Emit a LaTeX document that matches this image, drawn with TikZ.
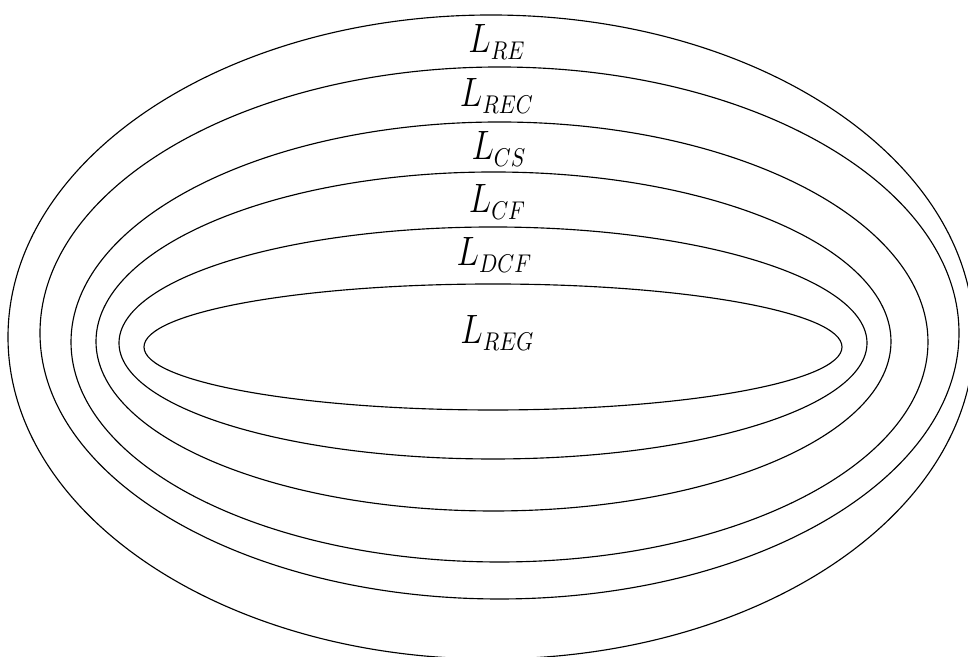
\documentclass[tikz,border=0pt]{standalone}
\usepackage{graphicx}
\DeclareMathSizes{14.4}{14.4}{9}{6}
\usetikzlibrary{shapes.geometric}
\newcommand{\rlbl}[1]{\scalebox{0.82}[1]{$#1$}}
\begin{document}
\begin{tikzpicture}[x=0.351pt,y=-0.351pt,
  ring/.style={draw=black,line width=0.4pt},
  lbl/.style={anchor=base,inner sep=0pt,font=\Large}]
\useasboundingbox (0,0) rectangle (968,657);
\clip (0,0) rectangle (968,657);
% nested regions
\draw[ring] (491,337)   ellipse [x radius=483,   y radius=322];
\draw[ring] (499.5,333) ellipse [x radius=459.5, y radius=266];
\draw[ring] (499.5,342) ellipse [x radius=428.5, y radius=220];
\draw[ring] (493.5,341.5) ellipse [x radius=397.5, y radius=169.5];
\draw[ring] (493,343)   ellipse [x radius=374,   y radius=116];
\draw[ring] (493,347)   ellipse [x radius=349,   y radius=63];
% labels
\node[lbl] (re)  at (497,53)  {\rlbl{L_{RE}}};
\node[lbl] (rec) at (497,107) {\rlbl{L_{REC}}};
\node[lbl] (cs)  at (499,160) {\rlbl{L_{CS}}};
\node[lbl] (cf)  at (497.5,213) {\rlbl{L_{CF}}};
\node[lbl] (dcf) at (494.5,266) {\rlbl{L_{DCF}}};
\node[lbl] (reg) at (497.5,344) {\rlbl{L_{REG}}};
\end{tikzpicture}
\end{document}
